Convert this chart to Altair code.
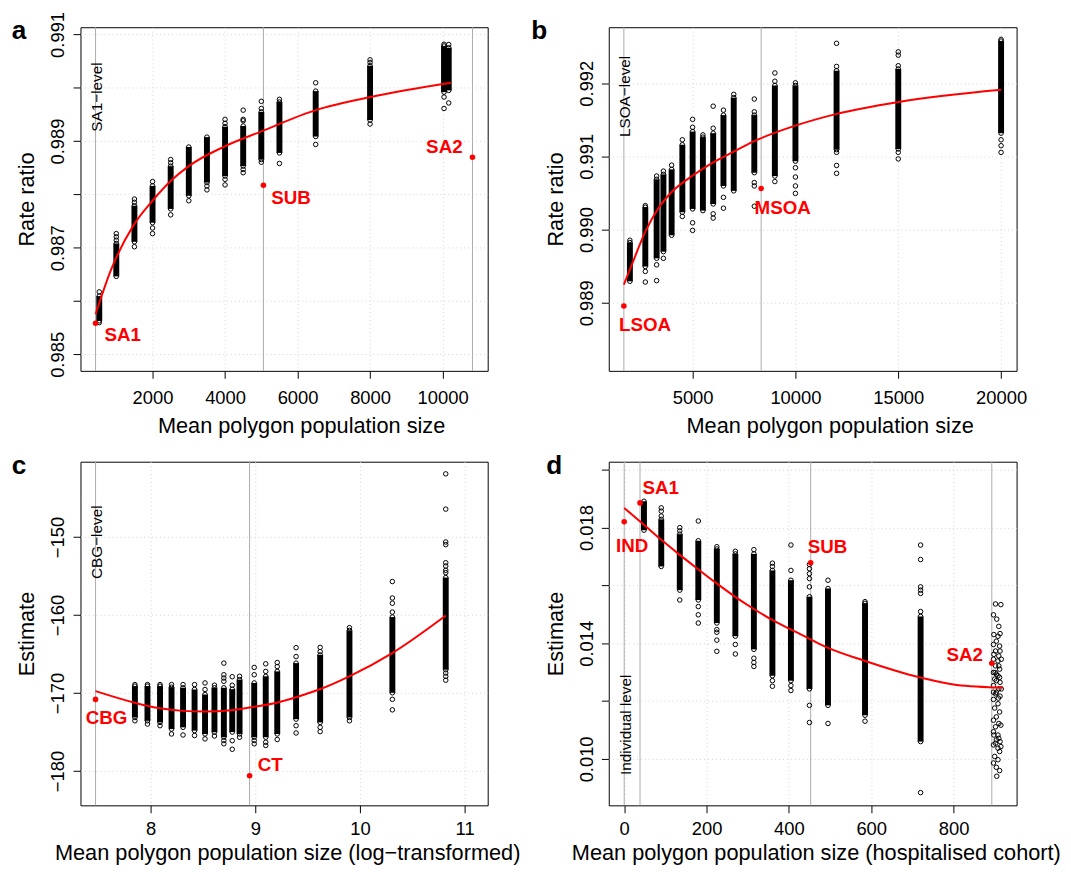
import altair as alt
import pandas as pd

FONT = "Liberation Sans"

# ---------------- Panel a ----------------
A_COL_X = [530, 1000, 1500, 2000, 2500, 3000, 3500, 4000, 4500, 5000, 5500, 6500, 8000, 10040, 10170]
A_CORE_HI = [0.986093, 0.987080, 0.987789, 0.988159, 0.988530, 0.988889, 0.989074, 0.989270, 0.989283,
             0.989548, 0.989733, 0.989937, 0.990413, 0.990783, 0.990750]
A_CORE_LO = [0.985630, 0.986463, 0.987111, 0.987469, 0.987728, 0.987974, 0.988222, 0.988344, 0.988530,
             0.988654, 0.988778, 0.989085, 0.989394, 0.989919, 0.989950]
A_EXTRA_Y = [
    [0.986172, 0.985598],
    [0.987265, 0.987204, 0.987141],
    [0.987913, 0.987852, 0.987019],
    [0.988241, 0.987370, 0.987265],
    [0.988654, 0.988593, 0.987617],
    [0.987881],
    [0.988159, 0.988085],
    [0.989407, 0.989333, 0.988283, 0.988178],
    [0.989580, 0.989407, 0.989381, 0.988469, 0.988407],
    [0.989746, 0.989611, 0.988604],
    [0.989783, 0.988580],
    [0.990093, 0.988937],
    [0.990524, 0.990474, 0.989320],
    [0.990815, 0.989826, 0.989611],
    [0.990810, 0.989715],
]
A_FREE_X = []
A_FREE_Y = []
A_FIT_X = [428, 837, 1473, 2000, 2499, 2999, 3988, 4988, 6503, 8020, 10226]
A_FIT_Y = [0.985752, 0.986556, 0.987419, 0.987881, 0.988250, 0.988530, 0.988900, 0.989178, 0.989580,
           0.989826, 0.990093]
A_LVL_NAME = ["SA1", "SUB", "SA2"]
A_LVL_X = [428, 5058, 10825]
A_LVL_Y = [0.985585, 0.988172, 0.988696]

# ---------------- Panel b ----------------
B_COL_X = [1950, 2700, 3250, 3580, 3980, 4500, 5000, 5500, 6000, 6500, 7000, 8000, 9000, 10000, 12000, 15000, 20000]
B_CORE_HI = [0.989823, 0.990305, 0.990687, 0.990754, 0.990822, 0.991159, 0.991339, 0.991263, 0.991317,
             0.991564, 0.991803, 0.991564, 0.991969, 0.991969, 0.992171, 0.992194, 0.992576]
B_CORE_LO = [0.989293, 0.989495, 0.989607, 0.989698, 0.989922, 0.990237, 0.990282, 0.990259, 0.990350,
             0.990596, 0.990529, 0.990777, 0.990731, 0.990934, 0.991092, 0.991101, 0.991317]
B_EXTRA_Y = [
    [0.989854],
    [0.990327, 0.989428, 0.989283],
    [0.990731, 0.989518, 0.989302],
    [0.990799, 0.989607],
    [0.990880],
    [0.991227, 0.990179],
    [0.991506, 0.991398, 0.990093, 0.989989],
    [0.991294],
    [0.991686, 0.991385, 0.990215, 0.990157],
    [0.991632, 0.990440, 0.990292],
    [0.991848],
    [0.991784, 0.991609, 0.990642, 0.990596, 0.990319],
    [0.992140, 0.992027, 0.990656],
    [0.992005, 0.990845, 0.990718, 0.990596, 0.990494],
    [0.992545, 0.992229, 0.991055, 0.990876, 0.990768],
    [0.992428, 0.992383, 0.992239, 0.991055, 0.990966],
    [0.992599, 0.991227, 0.991146, 0.991055],
]
B_FREE_X = []
B_FREE_Y = []
B_FIT_X = [1657, 2166, 2695, 3367, 3962, 4971, 5961, 6970, 7964, 9995, 11964, 15010, 20005]
B_FIT_Y = [0.989247, 0.989607, 0.989968, 0.990305, 0.990507, 0.990731, 0.990912, 0.991060, 0.991204,
           0.991420, 0.991578, 0.991744, 0.991911]
B_LVL_NAME = ["LSOA", "MSOA"]
B_LVL_X = [1657, 8333]
B_LVL_Y = [0.988955, 0.990561]

# ---------------- Panel c ----------------
C_COL_X = [7.85, 7.97, 8.09, 8.20, 8.31, 8.42, 8.52, 8.61, 8.70, 8.78, 8.85, 8.99, 9.10, 9.21, 9.39, 9.62,
           9.90, 10.31, 10.82]
C_CORE_HI = [-169.11, -169.11, -169.11, -169.24, -169.32, -169.54, -170.18, -169.32, -169.32, -169.50,
             -168.27, -168.70, -167.85, -167.22, -166.16, -165.11, -161.96, -160.25, -155.19]
C_CORE_LO = [-173.13, -173.55, -173.76, -174.61, -174.39, -174.81, -175.24, -175.02, -175.66, -175.00,
             -175.24, -175.66, -175.66, -175.24, -173.34, -173.76, -173.13, -169.96, -167.00]
C_EXTRA_Y = [
    [-168.91, -173.55],
    [-168.91, -173.97],
    [-168.91, -174.18],
    [-168.91, -175.24],
    [-168.91, -175.37],
    [-168.91, -175.44],
    [-168.70, -169.54, -175.87],
    [-168.99, -175.50],
    [-166.16, -167.65, -168.07, -168.49, -176.08, -176.50],
    [-167.90, -169.00, -176.10, -177.20],
    [-167.85, -175.66],
    [-166.71, -167.65, -176.08, -176.50],
    [-166.25, -167.22, -176.30, -176.71],
    [-166.08, -166.60, -175.95],
    [-164.18, -165.32, -174.18, -175.11],
    [-164.14, -164.69, -174.39, -174.94],
    [-161.61, -173.55],
    [-155.70, -157.81, -158.48, -159.62, -170.80, -172.15],
    [-141.90, -146.42, -150.63, -150.97, -153.29, -153.71, -154.26, -154.56, -167.43, -167.85, -168.35],
]
C_FREE_X = []
C_FREE_Y = []
C_FIT_X = [7.474, 7.846, 8.088, 8.308, 8.519, 8.771, 8.984, 9.205, 9.472, 9.610, 9.899, 10.305, 10.821]
C_FIT_Y = [-169.75, -171.23, -171.95, -172.28, -172.37, -172.20, -171.77, -171.23, -170.18, -169.54,
           -167.85, -164.90, -160.05]
C_LVL_NAME = ["CBG", "CT"]
C_LVL_X = [7.474, 8.946]
C_LVL_Y = [-170.81, -180.59]

# ---------------- Panel d ----------------
D_COL_X = [48, 90, 135, 180, 225, 270, 315, 360, 405, 450, 495, 585, 720]
D_CORE_HI = [0.018912, 0.018285, 0.017772, 0.017545, 0.017260, 0.017090, 0.017090, 0.016520, 0.016179,
             0.015610, 0.015894, 0.015382, 0.014927]
D_CORE_LO = [0.017911, 0.016657, 0.015837, 0.015496, 0.014699, 0.014244, 0.013789, 0.012877, 0.012706,
             0.012421, 0.011852, 0.011510, 0.010599]
D_EXTRA_Y = [
    [],
    [0.018683, 0.018570, 0.018399],
    [0.018000, 0.017886, 0.015496],
    [0.018228, 0.015269, 0.014984, 0.014699],
    [0.017340, 0.014472, 0.014381, 0.014108, 0.013721],
    [0.017181, 0.013959, 0.013629],
    [0.017238, 0.013482, 0.013334, 0.013198],
    [0.016771, 0.016657, 0.012706, 0.012513],
    [0.017397, 0.016520, 0.012535, 0.012365],
    [0.016726, 0.016578, 0.016407, 0.016236, 0.015951, 0.011852, 0.011260],
    [0.016179, 0.011226],
    [0.015439, 0.011305],
    [0.017397, 0.016896, 0.015951, 0.015837, 0.015723, 0.015097, 0.008834],
]
D_FREE_X = [902, 915, 897, 905, 910, 898, 908, 913, 904, 897,
            912, 902, 910, 897, 908, 916, 902, 912, 897, 908,
            904, 913, 897, 910, 902, 913, 897, 908, 900, 912,
            904, 897, 910, 902, 915, 897, 908, 904, 913, 897,
            908, 912, 900, 908, 897, 904, 912, 905,
            904, 912, 900, 916, 904, 909, 898, 910, 902, 915, 901, 910, 898, 913, 897]
D_FREE_Y = [0.015359, 0.015336, 0.014983, 0.014835, 0.014584, 0.014300, 0.014243, 0.014334, 0.014072, 0.013958,
            0.013902, 0.013731, 0.013560, 0.013446, 0.013389, 0.013446, 0.013218, 0.013104, 0.012990, 0.012876,
            0.012706, 0.012649, 0.012535, 0.012421, 0.012250, 0.012170, 0.012056, 0.011908, 0.011760, 0.011624,
            0.011453, 0.011339, 0.011225, 0.011111, 0.011168, 0.010940, 0.010826, 0.010655, 0.010598, 0.010484,
            0.010370, 0.010256, 0.010086, 0.009972, 0.009858, 0.009710, 0.009596, 0.009402,
            0.012933, 0.012819, 0.012762, 0.012421, 0.012307, 0.012102, 0.010826, 0.010712, 0.010541, 0.010427,
            0.012990, 0.013218, 0.013617, 0.013731, 0.012307]
D_FIT_X = [0, 48, 88, 132, 178, 223, 267, 312, 356, 402, 446, 491, 580, 718, 808, 920]
D_FIT_Y = [0.018680, 0.018100, 0.017604, 0.017091, 0.016579, 0.016087, 0.015632, 0.015212, 0.014835,
           0.014495, 0.014187, 0.013866, 0.013412, 0.012819, 0.012558, 0.012466]
D_LVL_NAME = ["IND", "SA1", "SUB", "SA2"]
D_LVL_X = [0, 38.4, 453, 893]
D_LVL_Y = [0.018205, 0.018854, 0.016784, 0.013309]

RED = "#FF0000"
GREY_LINE = "#ABABAB"
H = 348


def build(col_x, hi, lo, extra, free_x, free_y, fit_x, fit_y, lvl_name, lvl_x, lvl_y, lbl_style,
          tag_text, tag_y, xdom, ydom, xticks, yticks, ylab_expr, xtitle, ytitle, xtitle_x,
          xlab_pad, xtitle_y, letter, letter_dx, width):
    sx = alt.Scale(domain=xdom, nice=False, zero=False)
    sy = alt.Scale(domain=ydom, nice=False, zero=False)
    ax_x = alt.Axis(values=xticks, format="d", title=xtitle, titleX=xtitle_x, titleY=xtitle_y,
                    labelPadding=xlab_pad)
    ax_y = alt.Axis(values=yticks, labelExpr=ylab_expr, title=ytitle)

    def X():
        return alt.X("x:Q", scale=sx, axis=ax_x, title=xtitle)

    def Y():
        return alt.Y("y:Q", scale=sy, axis=ax_y, title=ytitle)

    pts_x, pts_y = [], []
    for cx, h, l, ex in zip(col_x, hi, lo, extra):
        for v in [h, l] + list(ex):
            pts_x.append(cx)
            pts_y.append(v)
    pts_x += list(free_x)
    pts_y += list(free_y)
    df_pts = pd.DataFrame({"x": pts_x, "y": pts_y})
    df_core = pd.DataFrame({"x": col_x, "y": lo, "y2": hi})
    df_fit = pd.DataFrame({"x": fit_x, "y": fit_y})
    df_lvl = pd.DataFrame({"x": lvl_x, "y": lvl_y, "name": lvl_name})

    vlines = alt.Chart(df_lvl).mark_rule(color=GREY_LINE, strokeWidth=1).encode(x=X())
    cores = alt.Chart(df_core).mark_rule(color="black", strokeWidth=6).encode(
        x=X(), y=Y(), y2=alt.Y2("y2:Q"))
    pts = alt.Chart(df_pts).mark_point(shape="circle", filled=False, color="black", size=21,
                                       strokeWidth=1, opacity=1).encode(x=X(), y=Y())
    fit = alt.Chart(df_fit).mark_line(color=RED, strokeWidth=2, interpolate="monotone").encode(
        x=X(), y=Y())
    red = alt.Chart(df_lvl).mark_circle(color=RED, size=32, opacity=1).encode(x=X(), y=Y())
    labels = []
    for i, (dx, dy, al) in enumerate(lbl_style):
        labels.append(
            alt.Chart(df_lvl.iloc[[i]]).mark_text(
                color=RED, font=FONT, fontSize=19, fontWeight="bold", align=al,
                baseline="middle", dx=dx, dy=dy).encode(x=X(), y=Y(), text="name:N"))
    df_tag = pd.DataFrame({"x": [lvl_x[0]], "y": [tag_y], "t": [tag_text]})
    tag = alt.Chart(df_tag).mark_text(angle=270, align="center", baseline="alphabetic", dy=6.5,
                                      font=FONT, fontSize=15.5, color="black").encode(
        x=X(), y=Y(), text="t:N")
    df_letter = pd.DataFrame({"t": [letter]})
    let = alt.Chart(df_letter).mark_text(align="left", baseline="alphabetic", font=FONT,
                                         fontSize=26.5, fontWeight="bold", color="black").encode(
        x=alt.value(letter_dx), y=alt.value(12.3), text="t:N")
    return alt.layer(vlines, cores, pts, fit, red, *labels, tag, let).properties(width=width, height=H)


pa = build(A_COL_X, A_CORE_HI, A_CORE_LO, A_EXTRA_Y, A_FREE_X, A_FREE_Y, A_FIT_X, A_FIT_Y,
           A_LVL_NAME, A_LVL_X, A_LVL_Y, [(9, 12.4, "left"), (8, 13.4, "left"), (-10, -10.3, "right")],
           "SA1\u2212level", 0.989826, [12, 11245], [0.984691, 0.991135],
           [2000, 4000, 6000, 8000, 10000],
           [0.985, 0.986, 0.987, 0.988, 0.989, 0.990, 0.991],
           "round(datum.value*1000) % 2 == 1 ? format(datum.value, '.3f') : ''",
           "Mean polygon population size", "Rate ratio", 223.4, 10.5, 62.5, "a", -69.6, 412.4)

pb = build(B_COL_X, B_CORE_HI, B_CORE_LO, B_EXTRA_Y, B_FREE_X, B_FREE_Y, B_FIT_X, B_FIT_Y,
           B_LVL_NAME, B_LVL_X, B_LVL_Y, [(-5, 19.5, "left"), (-6.7, 20, "left")],
           "LSOA\u2212level", 0.99182, [923, 20754], [0.988069, 0.992765],
           [5000, 10000, 15000, 20000],
           [0.989, 0.990, 0.991, 0.992],
           "format(datum.value, '.3f')",
           "Mean polygon population size", "Rate ratio", 223.7, 10.5, 62.5, "b", -78.6, 413)

pc = build(C_COL_X, C_CORE_HI, C_CORE_LO, C_EXTRA_Y, C_FREE_X, C_FREE_Y, C_FIT_X, C_FIT_Y,
           C_LVL_NAME, C_LVL_X, C_LVL_Y, [(-10, 18.7, "left"), (8.3, -10.6, "left")],
           "CBG\u2212level", -150.66, [7.33, 11.221], [-184.39, -140.34],
           [8, 9, 10, 11],
           [-180, -170, -160, -150],
           "format(datum.value, 'd')",
           "Mean polygon population size (log\u2212transformed)", "Estimate", 209.3, 7, 55, "c", -69.6, 412.4)

pd_ = build(D_COL_X, D_CORE_HI, D_CORE_LO, D_EXTRA_Y, D_FREE_X, D_FREE_Y, D_FIT_X, D_FIT_Y,
            D_LVL_NAME, D_LVL_X, D_LVL_Y,
            [(-8.3, 24.9, "left"), (2.4, -15.3, "left"), (-3, -15.9, "left"), (-9, -8.7, "right")],
            "Individual level", 0.011181, [-37.5, 953.2], [0.008394, 0.020279],
            [0, 200, 400, 600, 800],
            [0.010, 0.012, 0.014, 0.016, 0.018, 0.020],
            "round(datum.value*1000) % 4 == 2 ? format(datum.value, '.3f') : ''",
            "Mean polygon population size (hospitalised cohort)", "Estimate", 209.7, 7, 55, "d", -63.3, 413)

chart = alt.concat(pa, pb, pc, pd_, columns=2, spacing={"row": 92, "column": 122}, bounds="flush").properties(
    padding={"left": 2.4, "top": -3, "right": 2, "bottom": 0},
    background="white",
).configure_view(
    stroke="black", strokeWidth=1
).configure_axis(
    labelFont=FONT, labelFontSize=18.6, labelColor="black",
    titleFont=FONT, titleFontSize=22, titleFontWeight="normal", titleColor="black",
    tickColor="black", tickSize=7.5, tickWidth=1, domain=False,
    grid=True, gridColor="#D3D3D3", gridDash=[1, 3], gridWidth=1,
    labelOverlap=False, labelFlush=False,
).configure_axisY(
    labelAngle=270, labelAlign="center", labelBaseline="alphabetic", labelPadding=9.4,
    titleAngle=270, titleX=-47.3, titleY=174, titleAlign="center", titleBaseline="alphabetic",
).configure_axisX(
    labelAngle=0, labelAlign="center", labelBaseline="top",
    titleAlign="center", titleBaseline="alphabetic",
)

chart.save("out.html", embed_options={"renderer": "svg", "actions": False})
